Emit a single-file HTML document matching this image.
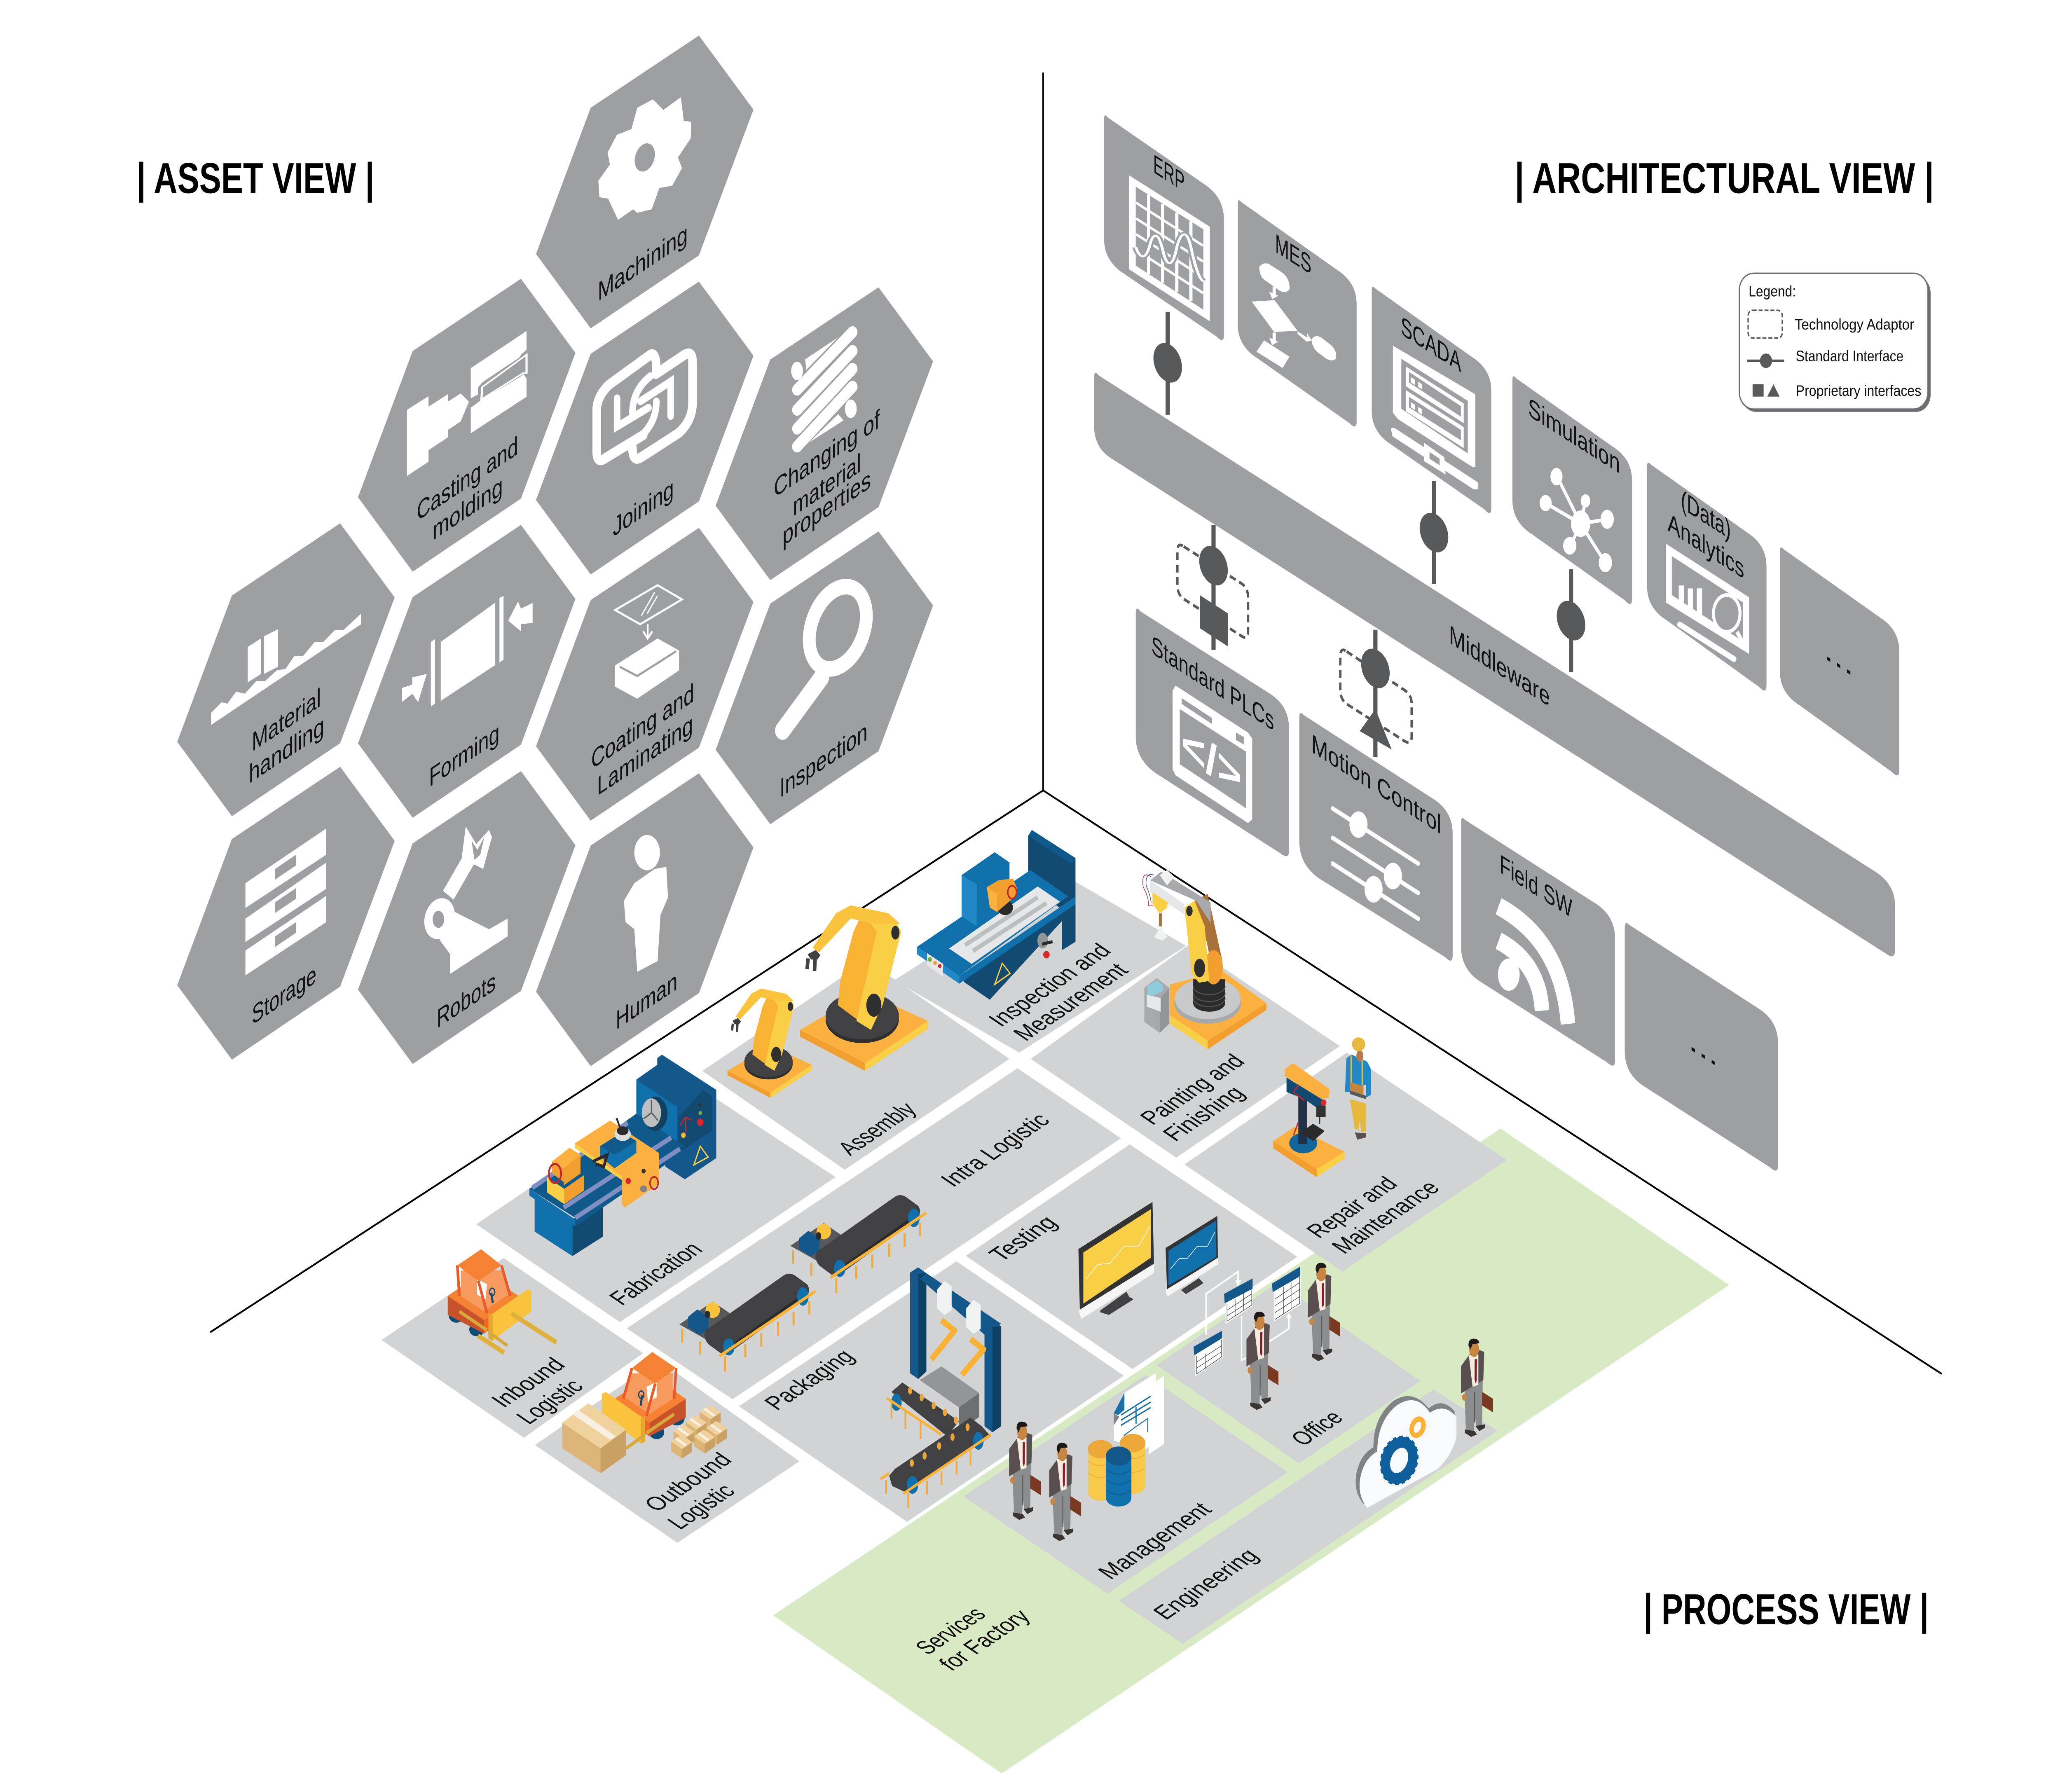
<!DOCTYPE html>
<html><head><meta charset="utf-8"><title>Factory views</title>
<style>
html,body{margin:0;padding:0;background:#fff;width:100%;height:100%;overflow:hidden}
svg{display:block;position:absolute;left:0;top:0;width:100%;height:100%}
text{font-family:"Liberation Sans",sans-serif;fill:#111}
.w{font-size:17px}
.f{font-size:18px}
.l{font-size:10px}
.h{font-size:28px;font-weight:bold;fill:#000}
</style></head><body>
<svg xmlns="http://www.w3.org/2000/svg" viewBox="0 0 1568 1160.8" preserveAspectRatio="none">
<defs>
<polygon id="hx" points="0,0 41.5,48 0,142.4 -82.4,189.7 -124,141.5 -82.4,46.8" fill="#9d9fa2"/>
<g id="robot">
<polygon points="773,392 885,320 993,375 885,455" fill="#fbb040"/>
<polygon points="885,455 993,375 993,390 885,470" fill="#f9cf46"/>
<polygon points="773,392 885,455 885,470 773,405" fill="#f29f30"/>
<ellipse cx="880" cy="372" rx="63" ry="45" fill="#2f2f2f"/><ellipse cx="880" cy="365" rx="63" ry="45" fill="#414042"/>
<polygon points="838,345 842,300 865,205 880,170 935,180 947,205 915,345 895,392" fill="#f9b233"/>
<polygon points="885,175 935,182 947,205 915,345 895,392 870,375 905,205" fill="#f9cf46"/>
<polygon points="860,155 925,170 945,190 900,190 860,180 805,245 795,235 835,170" fill="#f9c33c"/>
<polygon points="786,248 800,240 808,250 803,258 792,258" fill="#414042"/>
<path d="M787,256 L785,276 M799,254 L798,280" stroke="#414042" stroke-width="6" fill="none"/>
<ellipse cx="900" cy="345" rx="13" ry="22" fill="#2f2f2f"/>
<ellipse cx="937" cy="207" rx="7" ry="13" fill="#2f2f2f"/>
</g>
<g id="conv">
<polygon points="910,572 1025,505 1085,540 1065,655 1000,615" fill="#58595b"/>
<polygon points="940,550 972,528 1010,550 1010,585 980,603 940,580" fill="#14578a"/>
<ellipse cx="1025" cy="530" rx="25" ry="23" fill="#f9c33c"/><ellipse cx="1007" cy="543" rx="9" ry="11" fill="#2b2b2b"/>
<path d="M1000,590 L1270,428 Q1290,418 1310,430 L1350,455 Q1362,470 1350,490 L1090,650 Q1065,665 1050,655 L1010,630 Q990,610 1000,590Z" fill="#414042"/>
<path d="M1070,650 L1320,500" stroke="#2b2b2b" stroke-width="14"/>
<ellipse cx="1335" cy="490" rx="20" ry="27" fill="#0f70ab"/><ellipse cx="1080" cy="638" rx="20" ry="25" fill="#0f70ab"/>
<path d="M1048,665 L1378,475" stroke="#f9b233" stroke-width="9"/>
<path d="M1068,665 V710 M1137,630 V668 M1192,598 V637 M1250,565 V605 M1303,535 V575 M1357,505 V543 M920,585 V625 M982,622 V660" stroke="#f0a93a" stroke-width="7" fill="none"/>
</g>
<g id="fork">
<ellipse cx="520" cy="1078" rx="26" ry="20" fill="#0f4c75"/><ellipse cx="450" cy="1118" rx="26" ry="20" fill="#0f4c75"/>
<polygon points="305,1020 430,950 550,1020 425,1090" fill="#f58233"/>
<polygon points="425,1090 550,1020 550,1075 425,1130" fill="#c8522a"/>
<polygon points="305,1020 425,1090 425,1130 305,1060" fill="#f26522"/>
<polygon points="365,945 505,945 505,1020 425,1065 340,1015" fill="#f79a5e"/>
<polygon points="415,985 450,970 450,1015 420,1030" fill="#fff"/>
<path d="M395,1040 L400,1010" stroke="#124a72" stroke-width="7"/><ellipse cx="397" cy="1008" rx="9" ry="11" fill="none" stroke="#124a72" stroke-width="4"/>
<path d="M365,930 L335,1020 M445,975 L415,1070 M517,930 L510,1020" stroke="#e95a26" stroke-width="9" fill="none"/>
<polygon points="365,930 435,883 517,930 445,975" fill="#f58233"/>
<polygon points="262,1005 275,1000 410,1080 410,1140 395,1150 262,1065" fill="#f9c33c"/>
<polygon points="395,1078 410,1070 410,1145 395,1152" fill="#e6a92e"/>
<path d="M345,1165 L410,1125 M415,1120 L510,1065" stroke="#d9a83a" stroke-width="10" fill="none"/>
</g>
<g id="sb"><polygon points="0,20 35,0 72,22 37,42" fill="#f0d29c"/><polygon points="0,20 37,42 37,70 0,48" fill="#dcb478"/><polygon points="37,42 72,22 72,50 37,70" fill="#c9a263"/><polygon points="12,13 20,8 55,30 47,34" fill="#f6efe2"/></g>
<g id="man">
<polygon points="227,690 290,660 288,800 268,805 262,760 260,815 232,815" fill="#8a8c8e"/>
<path d="M262,700 V790" stroke="#58595b" stroke-width="3"/>
<polygon points="288,700 325,720 325,760 288,740" fill="#7a3a22"/>
<polygon points="228,810 262,815 270,825 250,832 228,820" fill="#3a3533"/><polygon points="265,800 298,795 298,805 278,815" fill="#3a3533"/>
<ellipse cx="227" cy="716" rx="8" ry="10" fill="#c68642"/>
<polygon points="215,625 245,590 280,578 295,583 292,665 240,692 215,705" fill="#58504e"/>
<polygon points="242,592 275,590 275,680 255,685" fill="#f5ece0"/>
<polygon points="262,605 270,603 269,668 265,675 262,665" fill="#8b1a2f"/>
<ellipse cx="260" cy="575" rx="17" ry="23" fill="#c68642"/>
<path d="M241,565 Q240,545 258,544 Q278,545 278,558 L255,560 L248,575Z" fill="#1f1a18"/>
</g>
</defs>

<!-- axes -->
<path d="M794,47 V512 M160,863 L794,512 L1478,890" stroke="#000" stroke-width="1.2" fill="none"/>

<!-- hexes -->
<use href="#hx" x="532" y="23"/><use href="#hx" x="396.5" y="180.6"/><use href="#hx" x="532" y="182.4"/><use href="#hx" x="668.7" y="186.1"/>
<use href="#hx" x="258.9" y="339"/><use href="#hx" x="396.5" y="340"/><use href="#hx" x="532" y="341.9"/><use href="#hx" x="668.7" y="344.2"/>
<use href="#hx" x="258.9" y="496.7"/><use href="#hx" x="396.5" y="499.5"/><use href="#hx" x="532" y="500.9"/>

<!-- hex icons -->
<g transform="translate(106.7,0) scale(.4425,.4595)" fill="#fff">
<path d="M882,140 L900,155 L930,137 L935,170 L948,172 L947,195 L925,222 L932,237 L915,262 L893,265 L880,295 L855,300 L848,295 L822,310 L805,280 L790,278 L788,255 L808,232 L804,215 L820,190 L845,182 L855,152Z"/>
<ellipse cx="868" cy="222" rx="16" ry="21" fill="#9d9fa2" transform="rotate(30 868 222)"/>
<path d="M122,1005 L140,990 L150,992 L165,975 L180,978 L200,960 L215,960 L235,945 L250,943 L265,925 L280,925 L300,905 L315,905 L335,888 L350,888 L380,865 V880 L122,1022Z"/>
<polygon points="185,912 208,900 208,950 185,962"/><polygon points="213,897 237,887 237,940 213,950"/>
<polygon points="517,905 610,850 610,938 517,988"/>
<polygon points="500,905 507,901 507,992 500,996"/><polygon points="618,843 625,840 625,930 618,934"/>
<polygon points="450,970 468,965 468,955 493,950 478,990 468,978 450,990"/>
<polygon points="675,850 675,878 655,880 655,890 633,875 650,848 655,858"/>
<polygon points="817,860 890,825 932,845 860,880" fill="none" stroke="#fff" stroke-width="3"/>
<path d="M862,868 L885,835 M872,865 L890,840" stroke="#fff" stroke-width="2"/>
<path d="M873,880 V900 M865,890 L873,900 L881,890" stroke="#fff" stroke-width="3" fill="none"/>
<polygon points="817,938 890,900 927,917 927,945 855,985 817,968"/>
<polyline points="825,940 855,953 922,918" stroke="#9d9fa2" stroke-width="3" fill="none"/>
<ellipse cx="1200" cy="885" rx="44" ry="62" fill="none" stroke="#fff" stroke-width="22" transform="rotate(30 1200 885)"/>
<path d="M1172,955 L1105,1030" stroke="#fff" stroke-width="26" stroke-linecap="round"/>
<polygon points="181,1245 320,1168 320,1205 181,1280"/><polygon points="181,1295 320,1216 320,1253 181,1328"/><polygon points="181,1340 320,1263 320,1300 181,1375"/>
<g fill="#9d9fa2"><polygon points="232,1225 268,1205 268,1220 232,1240"/><polygon points="232,1272 268,1252 268,1267 232,1287"/><polygon points="232,1320 268,1300 268,1315 232,1335"/></g>
<path d="M515,1325 L540,1285 L600,1310 L632,1295 V1320 L533,1373 V1345Z"/>
<ellipse cx="515" cy="1295" rx="25" ry="30" transform="rotate(30 515 1295)"/>
<ellipse cx="513" cy="1296" rx="10" ry="12" fill="#9d9fa2"/>
<path d="M530,1262 L570,1205" stroke="#fff" stroke-width="22"/>
<path d="M553,1210 L560,1165 L578,1190 L600,1170 L605,1180 L590,1225Z"/>
<polygon points="570,1185 580,1198 592,1180 585,1205 575,1212" fill="#9d9fa2"/>
<ellipse cx="872" cy="1202" rx="22" ry="25"/>
<path d="M850,1245 L885,1225 L905,1222 L908,1265 L895,1290 L890,1355 L855,1370 L850,1310 L835,1300 L832,1270Z"/>
</g>
<!-- casting icon -->
<g transform="translate(293.5,200.1) scale(.2723,.13615)" fill="#fff">
<polygon points="60,480 120,415 120,465 175,405 175,440 210,402 233,442 210,535 175,575 175,610 120,672 120,727 60,795"/>
<polygon points="238,282 394,105 394,195 380,215 375,230 270,350 258,375 258,408 238,425"/>
<polygon points="238,470 262,440 270,430 375,325 385,310 394,330 394,418 238,592"/>
<polygon points="270,372 394,218 394,305 385,305 268,430" fill="#9d9fa2" stroke="#fff" stroke-width="6"/>
</g>
<!-- joining icon -->
<g fill="none" stroke="#fff" stroke-linecap="round">
<path d="M499.6,239.6 Q499.6,226 493.6,230.7 L463.7,249.1 Q454.2,257 454.2,265.5 V292.7 Q454.2,300 459.6,297.4 L489.6,281.8" stroke-width="6.5"/>
<path d="M481.4,290 Q481.4,300 488.2,296.1 L516.8,280.4 Q527.1,272 527.1,261.4 V234.1 Q527.1,226 519.5,230.7 L499.1,242.3" stroke-width="6.5"/>
<path d="M469.7,258 V276.3 L493.6,264.1 M481.4,267.5 Q481.4,253 495,243.7 M510.5,269.5 V247.1 L487.4,260 M499.6,260 Q499.6,274 486.8,283.2" stroke-width="5"/>
</g>
<!-- changing icon -->
<g fill="#fff">
<path d="M648.9,215.1 L606.7,252.5 M648.9,227.3 L606.7,265.5 M648.9,238.9 L606.7,277.7 M648.9,250.5 L606.7,289.3" stroke="#fff" stroke-width="7.6" stroke-linecap="round"/>
<ellipse cx="606.7" cy="240.3" rx="4.5" ry="6"/><ellipse cx="647.6" cy="264.8" rx="4.5" ry="6"/>
<polygon points="638,218.5 612.8,232.8 613.7,239.6"/><polygon points="642.1,272.3 615.9,286.6 638,268.2"/>
</g>

<!-- hex labels -->
<g>
<text class="w" transform="translate(455,195.3) skewY(-29.6)" textLength="68.5" lengthAdjust="spacingAndGlyphs">Machining</text>
<text class="w" transform="translate(317.3,337.7) skewY(-29.6)" textLength="77" lengthAdjust="spacingAndGlyphs">Casting and</text>
<text class="w" transform="translate(329.3,350.1) skewY(-29.6)" textLength="53.5" lengthAdjust="spacingAndGlyphs">molding</text>
<text class="w" transform="translate(466.5,347.8) skewY(-29.6)" textLength="46.4" lengthAdjust="spacingAndGlyphs">Joining</text>
<text class="w" transform="translate(589,322.6) skewY(-29.6)" textLength="80.6" lengthAdjust="spacingAndGlyphs">Changing of</text>
<text class="w" transform="translate(603.6,334.5) skewY(-29.6)" textLength="51.8" lengthAdjust="spacingAndGlyphs">material</text>
<text class="w" transform="translate(595.6,353.8) skewY(-29.6)" textLength="67.3" lengthAdjust="spacingAndGlyphs">properties</text>
<text class="w" transform="translate(191.7,487) skewY(-29.6)" textLength="52.6" lengthAdjust="spacingAndGlyphs">Material</text>
<text class="w" transform="translate(189.4,507.7) skewY(-29.6)" textLength="57.5" lengthAdjust="spacingAndGlyphs">handling</text>
<text class="w" transform="translate(326.6,510) skewY(-29.6)" textLength="53.6" lengthAdjust="spacingAndGlyphs">Forming</text>
<text class="w" transform="translate(450,498.5) skewY(-29.6)" textLength="78.4" lengthAdjust="spacingAndGlyphs">Coating and</text>
<text class="w" transform="translate(454.5,515.6) skewY(-29.6)" textLength="73" lengthAdjust="spacingAndGlyphs">Laminating</text>
<text class="w" transform="translate(593.4,516.9) skewY(-29.6)" textLength="66.9" lengthAdjust="spacingAndGlyphs">Inspection</text>
<text class="w" transform="translate(191.7,664) skewY(-29.6)" textLength="49.1" lengthAdjust="spacingAndGlyphs">Storage</text>
<text class="w" transform="translate(332.4,666.3) skewY(-29.6)" textLength="45" lengthAdjust="spacingAndGlyphs">Robots</text>
<text class="w" transform="translate(468.7,667.2) skewY(-29.6)" textLength="46.9" lengthAdjust="spacingAndGlyphs">Human</text>
</g>

<!-- architecture connectors -->
<g stroke="#58595b" stroke-width="3.2" fill="none">
<path d="M888.8,202 V268.7 M1091.5,311.6 V378.3 M1195.8,368.8 V435.5 M923.7,340 V421 M1046.9,407.9 V490.3"/>
</g>

<!-- panels -->
<g fill="#9d9fa2">
<path d="M843,76 L917,119.5 Q931.6,128 931.6,142 V217 Q931.6,223 926,218 L855,177 Q840.4,168.7 840.4,155 V77 Q840.4,73 843,76Z"/>
<path d="M945,131 L1018,175 Q1032.6,183 1032.6,197 V273 Q1032.6,279 1027,274 L957,232 Q942.1,224 942.1,210 V132 Q942.1,128 945,131Z"/>
<path d="M1047,187 L1120,231 Q1135.1,239 1135.1,253 V329 Q1135.1,335 1130,330 L1059,288 Q1044.1,280 1044.1,266 V188 Q1044.1,184 1047,187Z"/>
<path d="M1154,245 L1227,289 Q1242.2,297 1242.2,311 V388 Q1242.2,394 1237,389 L1166,346 Q1151.2,338 1151.2,324 V246 Q1151.2,242 1154,245Z"/>
<path d="M1256.7,301 L1330,345 Q1344.6,353 1344.6,367 V444 Q1344.6,450 1339,445 L1269,402 Q1253.7,394 1253.7,380 V302 Q1253.7,298 1256.7,301Z"/>
<path d="M1358,356 L1431,400 Q1445.7,408 1445.7,422 V499 Q1445.7,505 1440,500 L1370,457 Q1354.8,449 1354.8,435 V357 Q1354.8,353 1358,356Z"/>
<path d="M836,243 L1428,565 Q1442.5,573 1442.5,587 V615 Q1442.5,622 1436,618 L846,297 Q832.8,290 832.8,276 V245 Q832.8,239 836,243Z"/>
<path d="M868,396 L966,449 Q981.2,457 981.2,472 V551 Q981.2,557 975,553 L880,501 Q864.5,492 864.5,477 V397 Q864.5,392 868,396Z"/>
<path d="M992,463 L1090,517 Q1105.7,525 1105.7,540 V619 Q1105.7,625 1100,620 L1004,569 Q989,560 989,545 V465 Q989,460 992,463Z"/>
<path d="M1115,531 L1214,585 Q1229.3,593 1229.3,608 V687 Q1229.3,693 1223,688 L1127,636 Q1112.1,628 1112.1,613 V533 Q1112.1,528 1115,531Z"/>
<path d="M1240,599 L1338,653 Q1353.4,661 1353.4,676 V755 Q1353.4,761 1347,756 L1252,704 Q1236.7,696 1236.7,681 V601 Q1236.7,596 1240,599Z"/>
</g>
<g fill="#58595b">
<ellipse cx="888.8" cy="235" rx="10" ry="13.5" transform="rotate(-28 888.8 235)"/>
<ellipse cx="1091.5" cy="345" rx="10" ry="13.5" transform="rotate(-28 1091.5 345)"/>
<ellipse cx="1195.8" cy="402" rx="10" ry="13.5" transform="rotate(-28 1195.8 402)"/>
<ellipse cx="923.7" cy="366.4" rx="10" ry="13.5" transform="rotate(-28 923.7 366.4)"/>
<ellipse cx="1046.9" cy="433" rx="10" ry="13.5" transform="rotate(-28 1046.9 433)"/>
<polygon points="913.2,385.5 934.8,397.4 934.8,418.8 913.2,406.9"/>
<polygon points="1046.9,459.3 1035,473.6 1059.3,485.5"/>
</g>
<g fill="none" stroke="#58595b" stroke-width="1.8" stroke-dasharray="5 3">
<path d="M901,354 L945,378 Q950,381 950,387 V409 Q950,415 945,412 L901,388 Q896.2,385 896.2,379 V357 Q896.2,351 901,354Z"/>
<path d="M1025,422 L1069,447 Q1074.5,450 1074.5,456 V477 Q1074.5,483 1069,480 L1025,456 Q1020.2,453 1020.2,447 V425 Q1020.2,419 1025,422Z"/>
</g>

<!-- arch icons -->
<g transform="translate(840.6,80.1) scale(.3063,.1702)">
<polygon points="62,197 262,392 262,752 62,555" fill="#fff"/>
<polygon points="78,240 246,402 246,708 78,540" fill="#9d9fa2"/>
<path d="M78,300 L246,465 M78,360 L246,525 M78,420 L246,585 M78,480 L246,645 M110,270 V572 M145,305 V605 M180,338 V640 M215,372 V675" stroke="#fff" stroke-width="8" fill="none"/>
<path d="M78,470 C90,520 105,520 115,450 C125,410 135,420 145,480 C155,550 170,550 180,470 C190,410 205,400 215,470 C225,540 235,590 246,600" stroke="#9d9fa2" stroke-width="18" fill="none"/>
<path d="M78,470 C90,520 105,520 115,450 C125,410 135,420 145,480 C155,550 170,550 180,470 C190,410 205,400 215,470 C225,540 235,590 246,600" stroke="#fff" stroke-width="7" fill="none"/>
<g fill="#fff">
<path d="M385,545 Q395,525 410,535 L445,570 Q462,595 460,630 Q450,650 435,635 L398,595 Q385,580 385,545Z"/>
<path d="M515,820 Q525,800 540,815 L565,845 Q580,870 575,895 Q565,908 550,893 L530,870 Q515,850 515,820Z"/>
<polygon points="366,677 423,672 480,788 422,793"/>
<polygon points="397,825 460,887 443,930 378,868"/>
<polygon points="418,620 426,620 426,650 432,655 417,668 410,640 418,645"/>
<polygon points="418,795 426,795 426,825 432,830 417,843 410,815 418,820"/>
<polygon points="480,790 505,815 503,795 515,825 503,830 480,800"/>
<polygon points="717,845 922,1030 922,1305 915,1307 730,1125 717,1100"/>
</g>
<polygon points="738,895 903,1055 903,1255 738,1085" fill="#9d9fa2"/>
<polygon points="750,925 893,1065 893,1140 750,1000" fill="#fff"/>
<polygon points="757,945 886,1075 886,1115 757,985" fill="#9d9fa2"/>
<polygon points="750,1015 893,1155 893,1235 750,1095" fill="#fff"/>
<polygon points="757,1040 886,1165 886,1205 757,1080" fill="#9d9fa2"/>
<g fill="#fff"><polygon points="762,965 772,975 772,995 762,985"/><polygon points="780,982 790,992 790,1012 780,1002"/><polygon points="762,1060 772,1070 772,1090 762,1080"/><polygon points="780,1078 790,1088 790,1108 780,1098"/>
<polygon points="712,1160 720,1157 928,1365 928,1392 918,1392 716,1190"/>
<polygon points="795,1215 845,1270 848,1335 795,1285"/></g>
<polygon points="808,1250 833,1275 833,1300 808,1275" fill="#9d9fa2"/>
</g>
<g transform="translate(800.6,40) scale(.4595,.4765)">
<g stroke="#fff" stroke-width="5"><path d="M876,628 L836,562 M876,628 L818,600 M876,628 L858,660 M876,628 L916,680 M876,628 L920,622 M876,628 L884,597"/></g>
<g fill="#fff"><ellipse cx="876" cy="628" rx="16" ry="18"/><ellipse cx="836" cy="564" rx="10" ry="12"/><ellipse cx="818" cy="600" rx="10" ry="11"/><ellipse cx="858" cy="658" rx="11" ry="12"/><ellipse cx="917" cy="681" rx="11" ry="13"/><ellipse cx="920" cy="622" rx="11" ry="13"/><ellipse cx="884" cy="597" rx="8" ry="9"/></g>
<polygon points="1017,655 1155,728 1155,805 1017,735" fill="#fff"/>
<polygon points="1027,672 1145,735 1145,788 1027,725" fill="#9d9fa2"/>
<path d="M1043,712 V735 M1058,716 V745 M1073,716 V752" stroke="#fff" stroke-width="9"/>
<ellipse cx="1118" cy="750" rx="22" ry="25" fill="#9d9fa2" stroke="#fff" stroke-width="5"/>
<path d="M1135,775 L1152,800" stroke="#fff" stroke-width="6"/>
<path d="M1040,765 L1130,812" stroke="#fff" stroke-width="8" stroke-linecap="round"/>
<polygon points="205,848 325,912 332,920 332,1030 325,1035 205,970 200,962 200,855" fill="#fff"/>
<polygon points="212,880 322,938 322,1015 212,955" fill="#9d9fa2"/>
<polygon points="215,865 265,892 265,900 215,873" fill="#9d9fa2"/>
<polygon points="305,912 318,918 318,928 305,922" fill="#9d9fa2"/>
<g stroke="#fff" stroke-width="6" stroke-linecap="round">
<path d="M465,1015 L607,1090 M465,1055 L607,1130 M465,1090 L607,1165"/></g>
<g fill="#fff"><ellipse cx="508" cy="1037" rx="15" ry="18"/><ellipse cx="565" cy="1107" rx="15" ry="18"/><ellipse cx="533" cy="1125" rx="15" ry="18"/>
<ellipse cx="757" cy="1241" rx="18" ry="22"/></g>
<g fill="none" stroke="#fff" stroke-width="24"><path d="M740,1195 Q808,1225 812,1290"/><path d="M740,1148 Q845,1195 855,1308"/></g>
</g>
<text transform="translate(899,490) skewY(28.4)" textLength="46" lengthAdjust="spacingAndGlyphs" style="font-size:30px;fill:#fff;font-weight:bold">&lt;/&gt;</text>

<!-- arch labels -->
<g>
<text class="w" transform="translate(877.8,111.5) skewY(28.4)" textLength="24" lengthAdjust="spacingAndGlyphs">ERP</text>
<text class="w" transform="translate(970.6,163) skewY(28.4)" textLength="27.6" lengthAdjust="spacingAndGlyphs">MES</text>
<text class="w" transform="translate(1066.2,216.3) skewY(28.4)" textLength="46" lengthAdjust="spacingAndGlyphs">SCADA</text>
<text class="w" transform="translate(1163.1,269) skewY(28.4)" textLength="70" lengthAdjust="spacingAndGlyphs">Simulation</text>
<text class="w" transform="translate(1279.4,329) skewY(28.4)" textLength="38" lengthAdjust="spacingAndGlyphs">(Data)</text>
<text class="w" transform="translate(1269.3,343.5) skewY(28.4)" textLength="58.3" lengthAdjust="spacingAndGlyphs">Analytics</text>
<text class="w" transform="translate(1388,426) skewY(28.4)" textLength="23" lengthAdjust="spacingAndGlyphs" style="font-size:20px">...</text>
<text class="w" transform="translate(1285,679) skewY(28.4)" textLength="23" lengthAdjust="spacingAndGlyphs" style="font-size:20px">...</text>
<text class="w" transform="translate(1103,416.4) skewY(28.4)" textLength="76.7" lengthAdjust="spacingAndGlyphs">Middleware</text>
<text class="w" transform="translate(876.4,423) skewY(28.4)" textLength="93.3" lengthAdjust="spacingAndGlyphs">Standard PLCs</text>
<text class="w" transform="translate(998.2,487) skewY(28.4)" textLength="98.8" lengthAdjust="spacingAndGlyphs">Motion Control</text>
<text class="w" transform="translate(1141.5,565) skewY(28.4)" textLength="55.2" lengthAdjust="spacingAndGlyphs">Field SW</text>
</g>

<!-- floor -->
<polygon points="588.5,1046.4 1142.2,731 1316.2,832.4 762.5,1148.8" fill="#d7eac3"/>
<g fill="#d1d3d4">
<polygon points="362.5,793 524,700 636,762.5 471.8,856.4"/>
<polygon points="534.6,693.7 660,622 768.3,685.9 643,757.7"/>
<polygon points="680.6,635 808,566 902.8,612.7 775.8,681.8"/>
<polygon points="784.6,685.9 905,612 1019.8,677.6 895.3,749.9"/>
<polygon points="901.6,754.3 1025,682 1147,751.5 1021.7,823.6"/>
<polygon points="477.1,860.5 774.5,692 853.2,737.3 557.6,906.4"/>
<polygon points="735.1,813.5 859.9,741.3 987.4,814.1 862,886.8"/>
<polygon points="562.5,910.9 728,817 855.4,891.1 690.4,985.8"/>
<polygon points="290.4,868 383.3,814.9 489.5,876.5 398.8,931.3"/>
<polygon points="407.2,936 501.4,881 608.5,946.6 515.6,999.4"/>
<polygon points="733.4,969.3 872,890.6 980.2,953.6 843,1032.3"/>
<polygon points="880.2,884.3 972.6,830.8 1081.2,894.4 988.8,947.9"/>
<polygon points="851.6,1037 1091.2,900 1139.8,926.8 900.2,1064.7"/>
</g>

<!-- robots (assembly) -->
<g transform="translate(266.9,533.7) scale(.4425,.3404)">
<use href="#robot"/>
<use href="#robot" transform="translate(138,211) scale(.66)"/>
</g>

<!-- Z1: lathe, conveyors, forklift, packaging -->
<g transform="translate(400.3,680.5) scale(.2212)">
<polygon points="380,85 452,42 452,22 468,12 655,115 655,315 547,377 480,340 480,200 380,150" fill="#14578a"/>
<polygon points="380,85 520,165 520,280 380,200" fill="#0f70ab"/>
<polygon points="525,195 610,115 640,135 640,235 525,300" fill="#124a72"/>
<polygon points="12,405 30,395 380,185 547,280 170,490" fill="#0f5a8a"/>
<polygon points="30,420 160,495 160,602 30,530" fill="#0f70ab"/>
<polygon points="160,495 265,440 265,545 160,602" fill="#124a72"/>
<polygon points="12,405 170,495 170,515 12,425" fill="#0f70ab"/>
<polygon points="170,495 530,285 547,295 170,515" fill="#0f5a8a"/>
<path d="M22,402 L350,212 M130,460 L500,255 M170,490 L530,288" stroke="#7f8fc4" stroke-width="14"/>
<ellipse cx="445" cy="185" rx="42" ry="50" fill="#14405f"/><ellipse cx="432" cy="182" rx="33" ry="42" fill="#bcbec0"/>
<path d="M432,182 V145 M432,182 L405,200 M432,182 L455,205" stroke="#58595b" stroke-width="4"/>
<path d="M550,195 V240 M550,195 L530,220 M550,195 L572,205" stroke="#c1272d" stroke-width="4" fill="none"/>
<circle cx="600" cy="210" r="11" fill="#d6282d"/><circle cx="600" cy="183" r="6" fill="#6db33f"/><circle cx="598" cy="160" r="6" fill="#333"/><circle cx="542" cy="248" r="8" fill="#f9b233"/>
<polygon points="600,280 627,312 578,335" fill="none" stroke="#f9cf46" stroke-width="4"/>
<polygon points="72,370 132,405 132,450 72,415" fill="#f9cf46"/>
<polygon points="132,405 200,365 200,410 132,450" fill="#f29f30"/>
<polygon points="90,325 150,285 188,305 130,345" fill="#fbb040"/>
<polygon points="90,325 130,345 130,385 90,360" fill="#f29f30"/>
<polygon points="130,345 188,305 188,360 130,395" fill="#f29f30"/>
<ellipse cx="100" cy="360" rx="21" ry="28" fill="none" stroke="#c1272d" stroke-width="6"/>
<polygon points="168,272 290,205 458,300 335,370" fill="#fbb040"/>
<polygon points="168,272 335,370 335,382 168,285" fill="#f9cf46"/>
<polygon points="330,370 458,300 458,390 340,460 330,450" fill="#fbb040"/>
<polygon points="255,280 330,240 380,265 380,300 305,345 255,310" fill="#0f70ab"/>
<polygon points="255,280 330,240 380,265 305,305" fill="#0f5a8a"/>
<path d="M312,198 L330,240" stroke="#2b2b2b" stroke-width="6"/><ellipse cx="333" cy="245" rx="28" ry="20" fill="#ddd"/><ellipse cx="333" cy="235" rx="20" ry="13" fill="#2b2b2b"/>
<ellipse cx="441" cy="388" rx="14" ry="18" fill="none" stroke="#c1272d" stroke-width="5"/>
<circle cx="352" cy="382" r="9" fill="#d6282d"/><circle cx="405" cy="353" r="7" fill="#333"/><ellipse cx="405" cy="405" rx="12" ry="10" fill="#808285"/>
<path d="M230,325 L280,305 L268,340 L240,332" fill="none" stroke="#2b2b2b" stroke-width="9"/>
<use href="#conv"/>
<use href="#conv" transform="translate(-382,230)"/>
<use href="#fork"/>
<polygon points="125,1090 215,1033 345,1110 257,1165" fill="#f0d29c"/>
<polygon points="125,1090 257,1165 257,1238 125,1165" fill="#dcb478"/>
<polygon points="257,1165 345,1110 345,1185 257,1238" fill="#c9a263"/>
<polygon points="160,1065 180,1052 310,1130 290,1140" fill="#f6efe2"/>
<use href="#sb" x="598" y="1038"/><use href="#sb" x="550" y="1068"/><use href="#sb" x="620" y="1085"/><use href="#sb" x="578" y="1110"/><use href="#sb" x="508" y="1095"/><use href="#sb" x="500" y="1125"/>
<use href="#fork" transform="translate(281,-301) scale(-1,1)"/>
<path d="M-50,770 L105,855 M-165,835 L-75,885" stroke="#e0b13a" stroke-width="14" fill="none"/>
<polygon points="1322,650 1350,635 1378,652 1378,940 1350,962 1322,945" fill="#14578a"/>
<polygon points="1350,655 1378,652 1378,940 1350,962" fill="#0b4263"/>
<polygon points="1355,668 1378,652 1635,800 1578,832" fill="#14578a"/>
<polygon points="1578,805 1605,790 1635.5,808 1635.5,1100 1605,1118 1578,1100" fill="#14578a"/>
<polygon points="1605,810 1635.5,808 1635.5,1100 1605,1118" fill="#0b4263"/>
<polygon points="1415,700 1440,675 1465,690 1465,760 1440,775 1415,755" fill="#f1f2f2"/>
<polygon points="1515,755 1540,730 1565,745 1565,815 1540,830 1515,810" fill="#f1f2f2"/>
<polygon points="1355,965 1430,925 1560,1003 1490,1045" fill="#939598"/>
<polygon points="1490,1045 1560,1003 1560,1073 1490,1115" fill="#6d6e71"/>
<path d="M1430,790 L1475,820 L1395,905 M1530,845 L1575,875 L1500,950" stroke="#f9b233" stroke-width="18" fill="none" stroke-linejoin="round"/>
<polygon points="1258,1000 1295,972 1490,1085 1450,1130" fill="#414042"/>
<polygon points="1250,1245 1270,1225 1530,1075 1568,1100 1600,1130 1310,1295 1260,1275" fill="#414042"/>
<ellipse cx="1275" cy="1030" rx="18" ry="25" fill="#0f70ab"/><ellipse cx="1330" cy="1272" rx="20" ry="26" fill="#0f70ab"/><ellipse cx="1557" cy="1143" rx="18" ry="26" fill="#0f70ab"/>
<path d="M1242,1018 L1430,1125 M1220,1255 L1250,1238 M1298,1298 L1600,1125" stroke="#f9b233" stroke-width="8" fill="none"/>
<path d="M1258,1030 V1078 M1306,1058 V1108 M1358,1088 V1138 M1240,1258 V1298 M1316,1295 V1340 M1380,1260 V1300 M1430,1232 V1272 M1482,1202 V1242 M1530,1172 V1215" stroke="#f0a93a" stroke-width="6" fill="none"/>
<g fill="#e8a738"><ellipse cx="1322" cy="996" rx="7" ry="11"/><ellipse cx="1362" cy="1016" rx="7" ry="11"/><ellipse cx="1403" cy="1040" rx="7" ry="11"/><ellipse cx="1442" cy="1060" rx="7" ry="11"/><ellipse cx="1480" cy="1083" rx="7" ry="11"/><ellipse cx="1520" cy="1103" rx="7" ry="11"/><ellipse cx="1468" cy="1132" rx="7" ry="11"/><ellipse cx="1422" cy="1158" rx="7" ry="11"/><ellipse cx="1372" cy="1187" rx="7" ry="11"/><ellipse cx="1328" cy="1208" rx="7" ry="11"/></g>
</g>

<!-- Z2: milling, painting, monitors -->
<g transform="translate(667.1,533.7) scale(.2212)">
<polygon points="522,35 535,18 685,100 685,345 638,370 638,250 522,180" fill="#124a72"/>
<polygon points="522,35 535,18 685,100 672,118" fill="#0f5a8a"/>
<polygon points="300,455 685,235 685,345 638,370 638,285 390,515 300,462" fill="#124a72"/>
<polygon points="140,360 530,135 660,212 285,445" fill="#0f70ab"/>
<polygon points="140,360 285,445 285,468 140,382" fill="#2088c6"/>
<polygon points="285,445 685,213 685,235 285,468" fill="#0f70ab"/>
<polygon points="293,150 407,83 458,113 345,178" fill="#0f70ab"/>
<polygon points="293,150 345,178 345,300 293,270" fill="#2088c6"/>
<polygon points="345,178 458,113 458,200 345,300" fill="#0f70ab"/>
<polygon points="250,365 555,183 632,228 328,410" fill="#e6e7e8"/>
<path d="M305,355 L555,215 M332,372 L585,232" stroke="#bcbec0" stroke-width="13"/>
<ellipse cx="443" cy="245" rx="27" ry="22" fill="#2b2b2b"/>
<polygon points="380,185 420,165 470,160 485,190 480,210 415,258 390,240" fill="#f29f30"/>
<polygon points="380,185 415,205 415,258 390,245" fill="#fbb040"/>
<ellipse cx="467" cy="200" rx="15" ry="19" fill="none" stroke="#c1272d" stroke-width="5"/>
<polygon points="433,408 460,438 407,470" fill="none" stroke="#f9cf46" stroke-width="4"/>
<polygon points="174,378 230,410 228,447 175,415" fill="#e6e7e8"/>
<circle cx="184" cy="397" r="7" fill="#6db33f"/><circle cx="202" cy="407" r="6" fill="#f29f30"/><circle cx="218" cy="416" r="6" fill="#d6282d"/>
<ellipse cx="572" cy="342" rx="18" ry="23" fill="#939598"/><path d="M570,352 L606,345" stroke="#2b2b2b" stroke-width="9"/><circle cx="585" cy="383" r="11" fill="#d6282d"/>
<polygon points="1010,470 1190,430 1342,525 1140,635 1010,560" fill="#fbb040"/>
<polygon points="1010,560 1140,635 1140,660 1010,585" fill="#f9cf46"/>
<polygon points="1140,635 1342,525 1342,545 1140,660" fill="#f29f30"/>
<ellipse cx="1140" cy="525" rx="115" ry="60" fill="#a7a9ac"/><ellipse cx="1140" cy="512" rx="113" ry="60" fill="#c7c8ca"/>
<path d="M1090,455 V525 A55,25 0 0 0 1200,525 V455Z" fill="#2b2b2b"/>
<path d="M1090,475 A55,25 0 0 0 1200,475 M1090,495 A55,25 0 0 0 1200,495 M1090,510 A55,25 0 0 0 1200,510" stroke="#555" stroke-width="3" fill="none"/>
<polygon points="1095,225 1140,205 1190,400 1160,440 1125,300" fill="#a97238"/>
<ellipse cx="1160" cy="420" rx="32" ry="50" fill="#f29f30"/>
<polygon points="1060,245 1095,225 1130,300 1145,460 1110,465 1085,440" fill="#f9cf46"/>
<ellipse cx="1112" cy="422" rx="19" ry="27" fill="#2f2f2f"/><ellipse cx="1077" cy="255" rx="11" ry="15" fill="#2f2f2f"/>
<polygon points="942,165 980,140 1150,230 1150,290 1100,225" fill="#a7a9ac"/>
<polygon points="942,165 1060,235 1060,265 942,200" fill="#e6e7e8"/>
<polygon points="975,150 1000,135 1025,155 1000,180" fill="#f1f2f2"/>
<polygon points="950,200 1003,230 1000,245 975,262 950,235" fill="#f9cf46"/>
<path d="M977,262 V300" stroke="#a97238" stroke-width="10"/>
<polygon points="978,300 955,332 985,342 1000,330" fill="#f1f2f2"/>
<path d="M945,155 Q910,135 918,185 Q940,220 935,240 L952,240" stroke="#c1272d" stroke-width="2" fill="none"/>
<path d="M955,150 Q925,140 928,180 Q945,215 945,232" stroke="#2b4aa0" stroke-width="2" fill="none"/>
<polygon points="922,480 965,452 1008,480 1008,585 975,612 922,580" fill="#a7a9ac"/>
<polygon points="975,512 1008,480 1008,585 975,612" fill="#939598"/>
<polygon points="932,475 965,458 985,472 985,490 932,510" fill="#8ecbdc"/>
<polygon points="930,500 978,510 978,550 930,535" fill="#e6e7e8"/>
<polygon points="695,1245 950,1107 955,1290 700,1425" fill="#333"/>
<polygon points="712,1255 945,1128 945,1270 712,1405" fill="#f9cf46"/>
<polygon points="695,1425 955,1288 955,1315 705,1450" fill="#f5f5f5"/>
<polygon points="770,1425 860,1370 870,1385 885,1392 800,1438 770,1430" fill="#414042"/>
<polyline points="722,1332 762,1290 803,1287 852,1237 903,1236 942,1175" stroke="#fff" stroke-width="2" fill="none"/>
<polygon points="995,1242 1173,1148 1175,1270 1000,1365" fill="#333"/>
<polygon points="1005,1250 1168,1162 1170,1268 1005,1352" fill="#0f70ab"/>
<polygon points="995,1365 1175,1272 1175,1290 1000,1385" fill="#f5f5f5"/>
<polygon points="1048,1365 1110,1330 1125,1345 1065,1377" fill="#414042"/>
<polyline points="1012,1303 1042,1273 1070,1272 1104,1237 1139,1237 1165,1195" stroke="#fff" stroke-width="2" fill="none"/>
</g>

<!-- Z4: drill, worker, cloud -->
<g transform="translate(880.6,667.1) scale(.1872)">
<polygon points="473,385 560,335 763,422 650,482" fill="#fbb040"/>
<polygon points="473,385 650,482 650,510 473,410" fill="#f29f30"/>
<polygon points="650,482 763,422 763,445 650,510" fill="#f9cf46"/>
<ellipse cx="595" cy="392" rx="57" ry="35" fill="#14659a"/>
<rect x="575" y="220" width="35" height="175" fill="#1f3247"/>
<polygon points="527,165 690,250 660,275 600,240 527,215" fill="#124a72"/>
<polygon points="520,135 555,115 702,205 700,235 670,240 520,160" fill="#fbb040"/>
<rect x="648" y="262" width="38" height="40" fill="#333"/><path d="M662,302 V325" stroke="#333" stroke-width="4"/>
<polygon points="585,355 635,325 682,350 635,385" fill="#2b2b2b"/>
<path d="M555,215 L600,245 M555,215 L578,190 M555,365 L575,320" stroke="#c1272d" stroke-width="5" fill="none"/>
<circle cx="678" cy="252" r="11" fill="#d6282d"/>
<polygon points="805,355 850,358 850,372 815,380" fill="#58504e"/>
<polygon points="785,240 850,255 850,350 830,355 825,310 820,345 805,345" fill="#e6b93c"/>
<polygon points="770,100 790,85 855,110 870,135 870,225 850,235 850,190 785,205 785,215 765,215" fill="#2088c6"/>
<path d="M790,88 V185 M835,105 V190" stroke="#e6b93c" stroke-width="6"/>
<polygon points="785,180 840,195 840,225 785,210" fill="#c6853f"/>
<polygon points="785,210 850,228 850,240 785,222" fill="#58595b"/>
<ellipse cx="825" cy="90" rx="14" ry="20" fill="#b87a4b"/>
<ellipse cx="820" cy="50" rx="27" ry="24" fill="#e8b93c"/>
<path d="M840,1640 Q800,1600 810,1540 Q825,1470 880,1445 Q880,1340 960,1285 Q1040,1240 1105,1310 Q1160,1270 1210,1320 L1215,1400 Q1190,1470 1130,1510Z" fill="#808285"/>
<path d="M856,1654 Q816,1614 826,1554 Q841,1484 896,1459 Q896,1354 976,1299 Q1056,1254 1110,1325 Q1170,1290 1218,1340 L1218,1410 Q1195,1480 1140,1520Z" fill="#f8fafd"/>
<ellipse cx="985" cy="1490" rx="52" ry="66" fill="none" stroke="#0f5f9c" stroke-width="38" transform="rotate(30 985 1490)"/>
<ellipse cx="985" cy="1490" rx="68" ry="82" fill="none" stroke="#0f5f9c" stroke-width="14" stroke-dasharray="14 12" transform="rotate(30 985 1490)"/>
<ellipse cx="1060" cy="1375" rx="22" ry="30" fill="none" stroke="#f9b233" stroke-width="18" transform="rotate(30 1060 1375)"/>
</g>

<!-- Z3: management, office, men -->
<g transform="translate(720.5,800.5) scale(.2212)">
<polygon points="722,425 748,410 748,610 695,640 695,630" fill="#fff"/>
<polygon points="575,520 612,460 720,402 722,600 685,625 575,600" fill="#fff"/>
<polygon points="575,520 612,460 612,510 590,525" fill="#1c6fa8"/><polygon points="575,520 595,530 575,555" fill="#808285"/>
<path d="M600,525 L702,470 M600,540 L702,487 M600,555 L702,503 M652,502 V550" stroke="#1c6fa8" stroke-width="4" fill="none"/>
<path d="M610,585 L650,560 L692,535 V575" stroke="#1c6fa8" stroke-width="3" fill="none"/>
<rect x="487" y="625" width="87" height="125" fill="#f9c94a"/><ellipse cx="530" cy="750" rx="44" ry="26" fill="#f9c94a"/><ellipse cx="530" cy="625" rx="44" ry="27" fill="#eda83a"/>
<rect x="597" y="607" width="87" height="125" fill="#f9c94a"/><ellipse cx="640" cy="730" rx="44" ry="26" fill="#f9c94a"/><ellipse cx="640" cy="607" rx="44" ry="27" fill="#eda83a"/>
<path d="M487,660 Q530,685 574,660 M487,695 Q530,720 574,695 M597,640 Q640,665 684,640 M597,680 Q640,705 684,680" stroke="#eda83a" stroke-width="2" fill="none"/>
<rect x="548" y="645" width="88" height="122" fill="#0f70ab"/><ellipse cx="592" cy="767" rx="44" ry="26" fill="#0f70ab"/><ellipse cx="592" cy="645" rx="44" ry="28" fill="#14578a"/>
<path d="M548,685 Q592,710 636,685 M548,715 Q592,740 636,715 M548,745 Q592,770 636,745" stroke="#14578a" stroke-width="2" fill="none"/>
<use href="#man"/>
<use href="#man" x="138" y="62"/>
<use href="#man" x="817" y="-322"/>
<use href="#man" x="1029" y="-465"/>
<use href="#man" x="1555" y="-243"/>
<path d="M893,290 V170 L1003,105 V145 M1015,235 V365 L1030,358 M1110,310 L1178,272 V235" stroke="#fff" stroke-width="5" fill="none"/>
<polygon points="993,130 1013,130 1003,150" fill="#fff"/><polygon points="1168,240 1188,240 1178,225" fill="#fff"/>
<polygon points="858,350 948,300 948,355 858,408" fill="#fff" stroke="#fff" stroke-width="4"/>
<polygon points="850,325 948,278 948,300 852,350" fill="#14578a"/>
<path d="M860,370 L946,322 M860,388 L946,340 M890,345 V390 M920,328 V372 M860,352 V405 L946,355 V305" stroke="#333" stroke-width="1.5" fill="none"/>
<polygon points="962,198 1050,150 1050,205 962,255" fill="#fff" stroke="#fff" stroke-width="4"/>
<polygon points="955,170 1053,125 1053,155 957,198" fill="#14578a"/>
<path d="M965,218 L1050,170 M965,235 L1050,188 M993,185 V235 M1022,168 V218 M965,200 V250 L1050,203 V155" stroke="#333" stroke-width="1.5" fill="none"/>
<polygon points="1128,165 1217,115 1217,200 1128,248" fill="#fff" stroke="#fff" stroke-width="4"/>
<polygon points="1120,140 1217,90 1217,118 1122,165" fill="#14578a"/>
<path d="M1130,185 L1215,137 M1130,205 L1215,157 M1130,225 L1215,178 M1160,150 V230 M1188,134 V215 M1130,168 V245 L1215,198 V120" stroke="#333" stroke-width="1.5" fill="none"/>
</g>

<!-- floor labels -->
<g>
<text class="f" transform="matrix(.866,-.5,.866,.5,473.3,846)" textLength="72" lengthAdjust="spacingAndGlyphs">Fabrication</text>
<text class="f" transform="matrix(.866,-.5,.866,.5,647.2,748.9)" textLength="59" lengthAdjust="spacingAndGlyphs">Assembly</text>
<text class="f" transform="matrix(.866,-.5,.866,.5,761.8,665.6)" textLength="98" lengthAdjust="spacingAndGlyphs">Inspection and</text>
<text class="f" transform="matrix(.866,-.5,.866,.5,780.8,674.8)" textLength="91" lengthAdjust="spacingAndGlyphs">Measurement</text>
<text class="f" transform="matrix(.866,-.5,.866,.5,877.3,729.2)" textLength="82" lengthAdjust="spacingAndGlyphs">Painting and</text>
<text class="f" transform="matrix(.866,-.5,.866,.5,894.6,739.8)" textLength="62" lengthAdjust="spacingAndGlyphs">Finishing</text>
<text class="f" transform="matrix(.866,-.5,.866,.5,725.5,769.4)" textLength="86" lengthAdjust="spacingAndGlyphs">Intra Logistic</text>
<text class="f" transform="matrix(.866,-.5,.866,.5,762.3,817.8)" textLength="50" lengthAdjust="spacingAndGlyphs">Testing</text>
<text class="f" transform="matrix(.866,-.5,.866,.5,591.4,914)" textLength="69" lengthAdjust="spacingAndGlyphs">Packaging</text>
<text class="f" transform="matrix(.866,-.5,.866,.5,383.5,912.3)" textLength="55" lengthAdjust="spacingAndGlyphs">Inbound</text>
<text class="f" transform="matrix(.866,-.5,.866,.5,402.5,923.2)" textLength="49" lengthAdjust="spacingAndGlyphs">Logistic</text>
<text class="f" transform="matrix(.866,-.5,.866,.5,499.9,979.8)" textLength="67" lengthAdjust="spacingAndGlyphs">Outbound</text>
<text class="f" transform="matrix(.866,-.5,.866,.5,517.5,991.3)" textLength="49.4" lengthAdjust="spacingAndGlyphs">Logistic</text>
<text class="f" transform="matrix(.866,-.5,.866,.5,845.3,1023.6)" textLength="90" lengthAdjust="spacingAndGlyphs">Management</text>
<text class="f" transform="matrix(.866,-.5,.866,.5,887.3,1049.8)" textLength="82.6" lengthAdjust="spacingAndGlyphs">Engineering</text>
<text class="f" transform="matrix(.866,-.5,.866,.5,992.1,937.1)" textLength="36" lengthAdjust="spacingAndGlyphs">Office</text>
<text class="f" transform="matrix(.866,-.5,.866,.5,1004,802.6)" textLength="70" lengthAdjust="spacingAndGlyphs">Repair and</text>
<text class="f" transform="matrix(.866,-.5,.866,.5,1023.1,812.7)" textLength="85" lengthAdjust="spacingAndGlyphs">Maintenance</text>
<text class="f" transform="matrix(.866,-.5,.866,.5,706.2,1072.4)" textLength="52" lengthAdjust="spacingAndGlyphs">Services</text>
<text class="f" transform="matrix(.866,-.5,.866,.5,724.3,1082.8)" textLength="70" lengthAdjust="spacingAndGlyphs">for Factory</text>
</g>

<!-- legend -->
<rect x="1325.5" y="178.8" width="144" height="88" rx="11" fill="#6d6e71"/>
<rect x="1323.9" y="177" width="143.6" height="88" rx="11" fill="#fff" stroke="#6d6e71" stroke-width=".9"/>
<text class="l" x="1331" y="192" textLength="36" lengthAdjust="spacingAndGlyphs">Legend:</text>
<rect x="1330.6" y="201" width="26" height="18" rx="3.5" fill="none" stroke="#58595b" stroke-width="1" stroke-dasharray="3 1.5"/>
<text class="l" x="1366" y="213.5" textLength="91" lengthAdjust="spacingAndGlyphs">Technology Adaptor</text>
<path d="M1330,233.7 H1358" stroke="#58595b" stroke-width="1.6"/><ellipse cx="1344.2" cy="233.7" rx="4.6" ry="4.7" fill="#58595b"/>
<text class="l" x="1366.9" y="234" textLength="82" lengthAdjust="spacingAndGlyphs">Standard Interface</text>
<rect x="1334" y="248.9" width="8.4" height="8" fill="#58595b"/><polygon points="1349.9,248.9 1345.2,256.9 1354.5,256.9" fill="#58595b"/>
<text class="l" x="1366.9" y="256.4" textLength="95.5" lengthAdjust="spacingAndGlyphs">Proprietary interfaces</text>

<!-- titles -->
<text class="h" x="104" y="125" textLength="181" lengthAdjust="spacingAndGlyphs">| ASSET VIEW |</text>
<text class="h" x="1153" y="125" textLength="319" lengthAdjust="spacingAndGlyphs">| ARCHITECTURAL VIEW |</text>
<text class="h" x="1251" y="1052" textLength="217" lengthAdjust="spacingAndGlyphs">| PROCESS VIEW |</text>
</svg>
</body></html>
